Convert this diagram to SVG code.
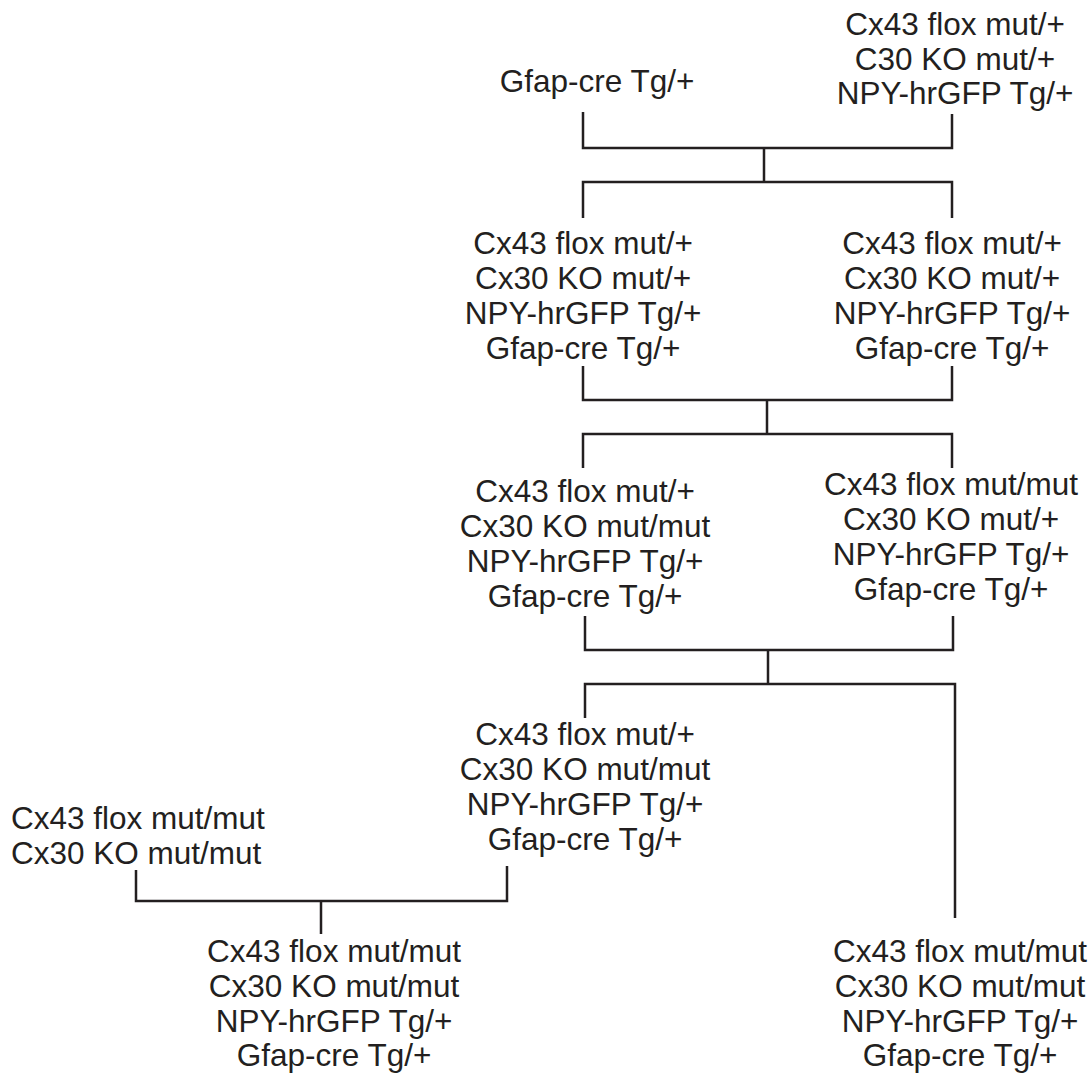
<svg xmlns="http://www.w3.org/2000/svg" width="1089" height="1075" viewBox="0 0 1089 1075">
<style>
text{font-family:"Liberation Sans",Arial,sans-serif;font-size:31.5px;fill:#231f20;text-anchor:middle}
.l{text-anchor:start}
.c{fill:none;stroke:#231f20;stroke-width:2.5}
</style>
<rect width="1089" height="1075" fill="#fff"/>
<g id="n_gfap"><text x="597" y="92">Gfap-cre Tg/+</text></g>
<g id="n_top"><text x="955" y="35"><tspan x="955">Cx43 flox mut/+</tspan><tspan x="955" y="70">C30 KO mut/+</tspan><tspan x="955" y="104">NPY-hrGFP Tg/+</tspan></text></g>
<g id="n_r2a"><text x="583" y="254"><tspan x="583">Cx43 flox mut/+</tspan><tspan x="583" y="289">Cx30 KO mut/+</tspan><tspan x="583" y="324">NPY-hrGFP Tg/+</tspan><tspan x="583" y="359">Gfap-cre Tg/+</tspan></text></g>
<g id="n_r2b"><text x="952" y="254"><tspan x="952">Cx43 flox mut/+</tspan><tspan x="952" y="289">Cx30 KO mut/+</tspan><tspan x="952" y="324">NPY-hrGFP Tg/+</tspan><tspan x="952" y="359">Gfap-cre Tg/+</tspan></text></g>
<g id="n_r3a"><text x="585" y="502"><tspan x="585">Cx43 flox mut/+</tspan><tspan x="585" y="537">Cx30 KO mut/mut</tspan><tspan x="585" y="572">NPY-hrGFP Tg/+</tspan><tspan x="585" y="607">Gfap-cre Tg/+</tspan></text></g>
<g id="n_r3b"><text x="951" y="495"><tspan x="951">Cx43 flox mut/mut</tspan><tspan x="951" y="530">Cx30 KO mut/+</tspan><tspan x="951" y="565">NPY-hrGFP Tg/+</tspan><tspan x="951" y="600">Gfap-cre Tg/+</tspan></text></g>
<g id="n_r4"><text x="585" y="745"><tspan x="585">Cx43 flox mut/+</tspan><tspan x="585" y="780">Cx30 KO mut/mut</tspan><tspan x="585" y="815">NPY-hrGFP Tg/+</tspan><tspan x="585" y="850">Gfap-cre Tg/+</tspan></text></g>
<g id="n_left"><text class="l" x="11" y="829"><tspan x="11">Cx43 flox mut/mut</tspan><tspan x="11" y="864">Cx30 KO mut/mut</tspan></text></g>
<g id="n_b1"><text x="334" y="962"><tspan x="334">Cx43 flox mut/mut</tspan><tspan x="334" y="997">Cx30 KO mut/mut</tspan><tspan x="334" y="1032">NPY-hrGFP Tg/+</tspan><tspan x="334" y="1066">Gfap-cre Tg/+</tspan></text></g>
<g id="n_b2"><text x="960" y="962"><tspan x="960">Cx43 flox mut/mut</tspan><tspan x="960" y="997">Cx30 KO mut/mut</tspan><tspan x="960" y="1032">NPY-hrGFP Tg/+</tspan><tspan x="960" y="1066">Gfap-cre Tg/+</tspan></text></g>
<g id="connectors" class="c">
<path d="M583 112V148H952V114M764 148V182M583 218V182H952V218"/>
<path d="M583 366V400H952V366M767 400V434M583 468V434H952V468"/>
<path d="M585 616V650H953V616M768 650V684M585 718V684H955V918"/>
<path d="M136 870V901H507V866M321 901V934"/>
</g>
</svg>
